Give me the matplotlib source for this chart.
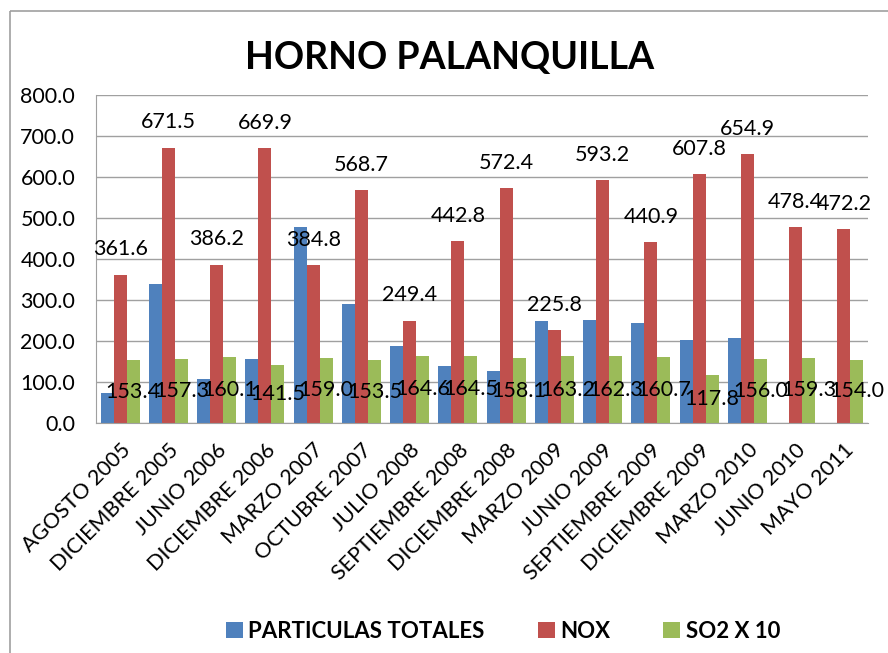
import numpy as np
import matplotlib
matplotlib.use('Agg')
import matplotlib.pyplot as plt
from matplotlib.patches import Rectangle

plt.rcParams['font.family'] = ['Lato', 'DejaVu Sans']

fechas = ['AGOSTO 2005', 'DICIEMBRE 2005', 'JUNIO 2006', 'DICIEMBRE 2006',
          'MARZO 2007', 'OCTUBRE 2007', 'JULIO 2008', 'SEPTIEMBRE 2008',
          'DICIEMBRE 2008', 'MARZO 2009', 'JUNIO 2009', 'SEPTIEMBRE 2009',
          'DICIEMBRE 2009', 'MARZO 2010', 'JUNIO 2010', 'MAYO 2011']
particulas = [74, 338, 107, 155, 477, 290, 187, 139,
              128, 248, 252, 245, 203, 207, np.nan, np.nan]
nox = [361.6, 671.5, 386.2, 669.9, 384.8, 568.7, 249.4, 442.8,
       572.4, 225.8, 593.2, 440.9, 607.8, 654.9, 478.4, 472.2]
so2 = [153.4, 157.3, 160.1, 141.5, 159.0, 153.5, 164.6, 164.5,
       158.1, 163.2, 162.3, 160.7, 117.8, 156.0, 159.3, 154.0]

azul = '#4F81BD'
rojo = '#C0504D'
verde = '#9BBB59'

W, H = 888, 653
fig = plt.figure(figsize=(W / 100, H / 100), dpi=100)

# marco exterior del grafico
fig.patches.append(Rectangle((10 / W, 1 - 11 / H), 2, -2, transform=fig.transFigure,
                             fill=False, edgecolor='#A0A0A0', lw=1.2))

ax = fig.add_axes([96 / W, 1 - 423 / H, 772 / W, 328 / H])

x = np.arange(len(fechas))
w = 0.27
ax.bar(x - w, particulas, w, color=azul, label='PARTICULAS TOTALES', zorder=2)
ax.bar(x, nox, w, color=rojo, label='NOX', zorder=2)
ax.bar(x + w, so2, w, color=verde, label='SO2 X 10', zorder=2)

for i in range(len(fechas)):
    ax.annotate('%.1f' % nox[i], (x[i], nox[i]), xytext=(0, 11),
                textcoords='offset points', ha='center', va='bottom', fontsize=15.5, zorder=3)
    ax.text(x[i] + w, so2[i] / 2, '%.1f' % so2[i], ha='center', va='center',
            fontsize=15.5, zorder=3)

ax.set_xlim(-0.5, len(fechas) - 0.5)
ax.set_ylim(0, 800)
ax.set_yticks(np.arange(0, 801, 100))
ax.set_yticklabels(['%.1f' % v for v in np.arange(0, 801, 100)], fontsize=15.5)
ax.yaxis.grid(True, color='#A0A0A0', lw=1, zorder=0)
ax.set_axisbelow(True)
ax.tick_params(axis='y', length=0, pad=15)
ax.set_xticks(x)
ax.set_xticklabels(fechas, rotation=45, ha='right', rotation_mode='anchor', fontsize=15.5)
ax.tick_params(axis='x', length=0, pad=12)
for s in ['top', 'right']:
    ax.spines[s].set_visible(False)
for s in ['left', 'bottom']:
    ax.spines[s].set_color('#A0A0A0')

fig.text(450 / W, 1 - 58 / H, 'HORNO PALANQUILLA', ha='center', va='center',
         fontsize=27, fontweight='bold')

fig.legend(loc='center', bbox_to_anchor=(503 / W, 1 - 631 / H), ncol=3, frameon=False,
           prop={'weight': 'bold', 'size': 16}, handlelength=0.75, handleheight=0.75,
           handletextpad=0.25, columnspacing=2.4)

fig.savefig('out.png', dpi=100)
